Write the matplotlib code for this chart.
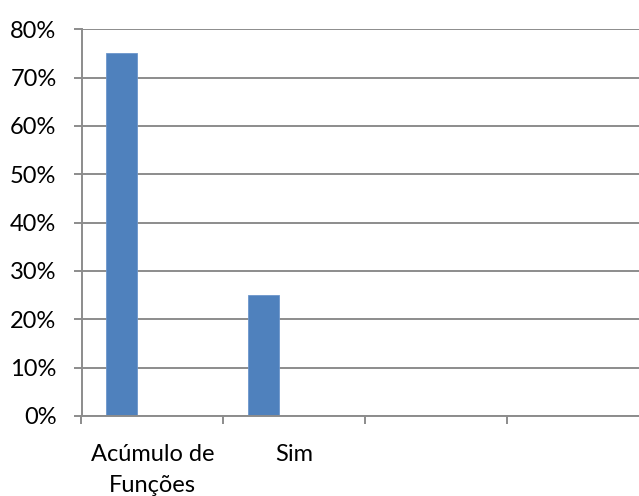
import numpy as np
import matplotlib
matplotlib.use("Agg")
import matplotlib.pyplot as plt
from matplotlib.ticker import FixedLocator, PercentFormatter

categories = ["Acúmulo de\nFunções", "Sim", "", ""]
values = [0.75, 0.25, 0.0, 0.0]
y_ticks = [0.0, 0.1, 0.2, 0.3, 0.4, 0.5, 0.6, 0.7, 0.8]

plt.rcParams['font.family'] = ['Lato', 'DejaVu Sans']

grid_color = "#8c8c8c"
bar_color = "#4f81bd"

fig = plt.figure(figsize=(6.39, 4.96), dpi=100)
ax = fig.add_axes([81.5 / 639, 80 / 496, (4 * 141.7) / 639, (416 - 29.3) / 496])

x = np.arange(len(categories))
ax.bar(x - 0.217, values, width=0.219, color=bar_color, edgecolor="#6c96cc",
       linewidth=0.6, zorder=3)

ax.set_xlim(-0.5, len(categories) - 0.5)
ax.set_ylim(0, 0.8)
ax.set_yticks(y_ticks)
ax.yaxis.set_major_formatter(PercentFormatter(1.0, decimals=0))
ax.yaxis.grid(True, color=grid_color, linewidth=1.4, zorder=1)

ax.set_xticks(x)
ax.set_xticklabels(categories, fontsize=17, linespacing=1.58)
ax.xaxis.set_minor_locator(FixedLocator(np.arange(-0.5, len(categories) - 0.5, 1.0)))
ax.tick_params(axis='x', which='major', length=0, pad=20)
ax.tick_params(axis='x', which='minor', length=6, width=1.4, color=grid_color, direction='out')
ax.tick_params(axis='y', which='major', length=6, width=1.4, color=grid_color,
               direction='out', labelsize=17, pad=12)

for side in ("top", "right"):
    ax.spines[side].set_visible(False)
for side in ("left", "bottom"):
    ax.spines[side].set_color(grid_color)
    ax.spines[side].set_linewidth(1.4)
    ax.spines[side].set_zorder(4)

fig.savefig("out.png", dpi=100)
